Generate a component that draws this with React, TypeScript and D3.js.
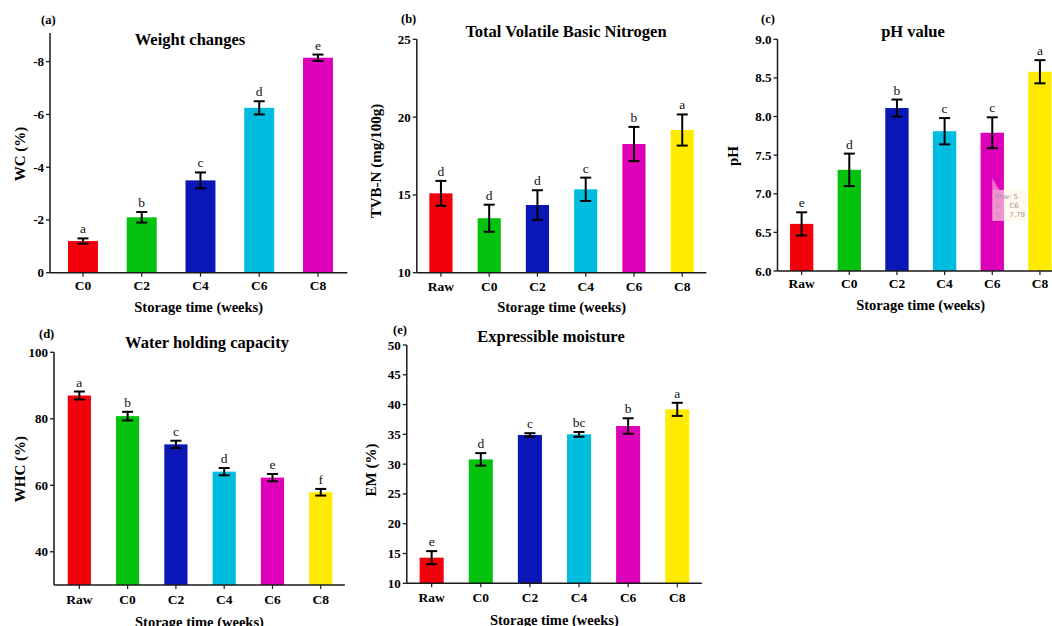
import React from 'react'
import * as d3 from 'd3'

// categories
const WEEKS = ['C0', 'C2', 'C4', 'C6', 'C8']
const WITH_RAW = ['Raw', 'C0', 'C2', 'C4', 'C6', 'C8']

// (a) weight changes
const WC_VALUES = [-1.2, -2.1, -3.5, -6.25, -8.15]
const WC_ERRORS = [0.1, 0.2, 0.3, 0.25, 0.12]
const WC_LETTERS = ['a', 'b', 'c', 'd', 'e']

// (b) TVB-N
const TVBN_VALUES = [15.1, 13.5, 14.35, 15.36, 18.27, 19.17]
const TVBN_ERRORS = [0.8, 0.87, 0.95, 0.75, 1.1, 1.0]
const TVBN_LETTERS = ['d', 'd', 'd', 'c', 'b', 'a']

// (c) pH
const PH_VALUES = [6.61, 7.31, 8.11, 7.81, 7.79, 8.58]
const PH_ERRORS = [0.15, 0.21, 0.11, 0.17, 0.2, 0.15]
const PH_LETTERS = ['e', 'd', 'b', 'c', 'c', 'a']

// (d) water holding capacity
const WHC_VALUES = [87.0, 80.8, 72.3, 64.1, 62.3, 57.9]
const WHC_ERRORS = [1.2, 1.3, 1.1, 1.1, 1.1, 1.0]
const WHC_LETTERS = ['a', 'b', 'c', 'd', 'e', 'f']

// (e) expressible moisture
const EM_VALUES = [14.3, 30.8, 34.9, 35.0, 36.4, 39.2]
const EM_ERRORS = [1.1, 1.05, 0.3, 0.4, 1.3, 1.1]
const EM_LETTERS = ['e', 'd', 'c', 'bc', 'b', 'a']

// tick values
const WC_TICKS = [0, -2, -4, -6, -8]
const TVBN_TICKS = [10, 15, 20, 25]
const PH_TICKS = [6, 6.5, 7, 7.5, 8, 8.5, 9]
const WHC_TICKS = [40, 60, 80, 100]
const EM_TICKS = [10, 15, 20, 25, 30, 35, 40, 45, 50]

const COLORS_WEEKS = ['#f2000c', '#05c20e', '#0a16b6', '#00bde0', '#de00b8']
const COLORS_RAW = ['#f2000c', '#05c20e', '#0a16b6', '#00bde0', '#de00b8', '#ffeb00']

const FONT = "'Liberation Serif', 'Times New Roman', serif"
const AXIS = '#1a1a1a'

const panels = [
  {
    tag: '(a)', tagX: 41, tagY: 24, title: 'Weight changes', titleX: 190, titleY: 45,
    yLabel: 'WC (%)', yLabelX: 25, yLabelY: 154,
    cats: WEEKS, values: WC_VALUES, errors: WC_ERRORS, letters: WC_LETTERS, colors: COLORS_WEEKS,
    ticks: WC_TICKS, fmt: (d: number) => String(d),
    domain: [0, -9], y0: 272.7, y1: 35.3, axisX: 50, axisTop: 33,
    bandStart: 53.6, step: 58.75, pad: 0.49, catDy: 17, xTitleDy: 39,
  },
  {
    tag: '(b)', tagX: 401, tagY: 23, title: 'Total Volatile Basic Nitrogen', titleX: 566, titleY: 37,
    yLabel: 'TVB-N (mg/100g)', yLabelX: 381, yLabelY: 161,
    cats: WITH_RAW, values: TVBN_VALUES, errors: TVBN_ERRORS, letters: TVBN_LETTERS, colors: COLORS_RAW,
    ticks: TVBN_TICKS, fmt: (d: number) => String(d),
    domain: [10, 25], y0: 272.7, y1: 39.3, axisX: 416.8, axisTop: 39.3,
    bandStart: 416.8, step: 48.26, pad: 0.52, catDy: 18, xTitleDy: 39,
  },
  {
    tag: '(c)', tagX: 761, tagY: 23, title: 'pH value', titleX: 913, titleY: 37,
    yLabel: 'pH', yLabelX: 738, yLabelY: 156,
    cats: WITH_RAW, values: PH_VALUES, errors: PH_ERRORS, letters: PH_LETTERS, colors: COLORS_RAW,
    ticks: PH_TICKS, fmt: d3.format('.1f'),
    domain: [6, 9], y0: 271, y1: 39.3, axisX: 777.5, axisTop: 39.3,
    bandStart: 777.8, step: 47.66, pad: 0.51, catDy: 17, xTitleDy: 39,
  },
  {
    tag: '(d)', tagX: 39, tagY: 338, title: 'Water holding capacity', titleX: 207, titleY: 348,
    yLabel: 'WHC (%)', yLabelX: 25, yLabelY: 469,
    cats: WITH_RAW, values: WHC_VALUES, errors: WHC_ERRORS, letters: WHC_LETTERS, colors: COLORS_RAW,
    ticks: WHC_TICKS, fmt: (d: number) => String(d),
    domain: [30, 100], y0: 585, y1: 352.3, axisX: 54, axisTop: 352.3,
    bandStart: 55.2, step: 48.28, pad: 0.52, catDy: 19, xTitleDy: 42,
  },
  {
    tag: '(e)', tagX: 393, tagY: 334, title: 'Expressible moisture', titleX: 551, titleY: 342,
    yLabel: 'EM (%)', yLabelX: 376, yLabelY: 470,
    cats: WITH_RAW, values: EM_VALUES, errors: EM_ERRORS, letters: EM_LETTERS, colors: COLORS_RAW,
    ticks: EM_TICKS, fmt: (d: number) => String(d),
    domain: [10, 50], y0: 583.3, y1: 345, axisX: 406.8, axisTop: 345,
    bandStart: 407.1, step: 49.12, pad: 0.51, catDy: 19, xTitleDy: 42,
  },
]

function Panel({ p }: { p: any }) {
  const y = d3.scaleLinear().domain(p.domain).range([p.y0, p.y1])
  const x = d3.scaleBand<string>()
    .domain(p.cats)
    .range([p.bandStart, p.bandStart + p.step * p.cats.length])
    .paddingInner(p.pad)
    .paddingOuter(p.pad / 2)
  const bw = x.bandwidth()
  const xEnd = p.bandStart + p.step * p.cats.length
  const base = y(p.domain[0])
  const cap = 5.5

  return (
    <g>
      <text x={p.tagX} y={p.tagY} fontFamily={FONT} fontWeight="bold" fontSize={12.5}>{p.tag}</text>
      <text x={p.titleX} y={p.titleY} textAnchor="middle" fontFamily={FONT} fontWeight="bold" fontSize={16.5}>{p.title}</text>
      <text transform={`translate(${p.yLabelX},${p.yLabelY}) rotate(-90)`} textAnchor="middle"
        fontFamily={FONT} fontWeight="bold" fontSize={15}>{p.yLabel}</text>

      {p.cats.map((c: string, i: number) => {
        const v = p.values[i]
        const e = p.errors[i]
        const cx = x(c)! + bw / 2
        const top = Math.min(y(v), base)
        const hi = Math.min(y(v + e), y(v - e))
        const lo = Math.max(y(v + e), y(v - e))
        return (
          <g key={c}>
            <rect x={x(c)} y={top} width={bw} height={Math.abs(base - y(v))} fill={p.colors[i]} />
            <line x1={cx} x2={cx} y1={hi} y2={lo} stroke="#000" strokeWidth={2} />
            <line x1={cx - cap} x2={cx + cap} y1={hi} y2={hi} stroke="#000" strokeWidth={2} />
            <line x1={cx - cap} x2={cx + cap} y1={lo} y2={lo} stroke="#000" strokeWidth={2} />
            <text x={cx} y={hi - 5} textAnchor="middle" fontFamily={FONT} fontSize={13.5} fill="#111">{p.letters[i]}</text>
            <line x1={cx} x2={cx} y1={base} y2={base + 4} stroke={AXIS} strokeWidth={1.2} />
            <text x={cx} y={base + p.catDy} textAnchor="middle" fontFamily={FONT} fontWeight="bold" fontSize={13.5}>{c}</text>
          </g>
        )
      })}

      <line x1={p.axisX} x2={p.axisX} y1={p.axisTop} y2={base} stroke={AXIS} strokeWidth={1.5} />
      <line x1={p.axisX} x2={xEnd} y1={base} y2={base} stroke={AXIS} strokeWidth={1.5} />
      {p.ticks.map((t: number) => (
        <g key={t}>
          <line x1={p.axisX - 4} x2={p.axisX} y1={y(t)} y2={y(t)} stroke={AXIS} strokeWidth={1.3} />
          <text x={p.axisX - 6} y={y(t)} dy="0.35em" textAnchor="end" fontFamily={FONT} fontWeight="bold" fontSize={13}>{p.fmt(t)}</text>
        </g>
      ))}
      <text x={(p.axisX + xEnd) / 2} y={base + p.xTitleDy} textAnchor="middle" fontFamily={FONT} fontWeight="bold" fontSize={14.5}>
        Storage time (weeks)
      </text>
    </g>
  )
}

// screenshot hover tooltip on the C6 bar of panel (c)
function Tooltip() {
  const p = panels[2]
  const y = d3.scaleLinear().domain(p.domain).range([p.y0, p.y1])
  const x = d3.scaleBand<string>().domain(p.cats)
    .range([p.bandStart, p.bandStart + p.step * p.cats.length])
    .paddingInner(p.pad).paddingOuter(p.pad / 2)
  const bx = x('C6')! + x.bandwidth() / 2
  const by = y(7.05)
  const fs = 7
  return (
    <g fontFamily="'DejaVu Sans', sans-serif" fontSize={fs}>
      <path d={`M${bx},${by - 12} L${bx + 7},${by} L${bx},${by} Z`} fill="rgba(255,240,230,0.45)" />
      <rect x={bx} y={by} width={34} height={31} fill="rgba(255,246,225,0.6)" />
      <g fill="#b090a8">
        <text x={bx + 2.5} y={by + 9}>Row: 5</text>
        <text x={bx + 2.5} y={by + 18}>X:</text>
        <text x={bx + 17} y={by + 18}>C6</text>
        <text x={bx + 2.5} y={by + 27}>Y:</text>
        <text x={bx + 17} y={by + 27}>7.79</text>
      </g>
    </g>
  )
}

export default function App() {
  return (
    <svg width={1052} height={626} style={{ position: 'absolute', left: 0, top: 0, background: '#fff' }}>
      {panels.map(p => <Panel key={p.tag} p={p} />)}
      <Tooltip />
    </svg>
  )
}
